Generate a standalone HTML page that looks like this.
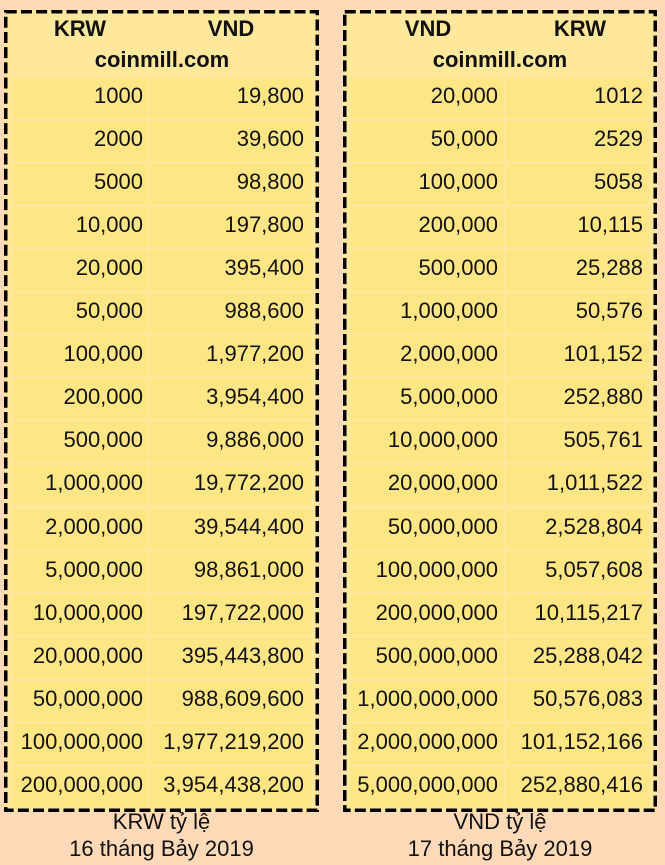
<!DOCTYPE html>
<html>
<head>
<meta charset="utf-8">
<style>
  html, body { margin:0; padding:0; }
  body { width:665px; height:865px; background:#FFDAB9; position:relative; overflow:hidden;
         font-family:"Liberation Sans", Arial, sans-serif; color:#111; }
  .box { position:absolute; background:#FFE89C; top:10px; height:802px; }
  .c { position:absolute; height:40px; background:#FFE684; font-size:22px; line-height:35px;
       text-align:right; white-space:nowrap; box-sizing:border-box; padding-right:5px; }
  .l2 { padding-right:8px; }
  .r1 { padding-right:6px; }
  .r2 { padding-right:6px; }
  .h { position:absolute; font-size:22px; line-height:22px; font-weight:bold; white-space:nowrap; text-align:center; }
  .cap { position:absolute; font-size:22px; line-height:22px; white-space:nowrap; text-align:center; }
  svg.b { position:absolute; left:0; top:0; }
</style>
</head>
<body>
<div class="box" style="left:4px;width:315px;"></div>
<div class="box" style="left:343px;width:314px;"></div>

<!-- Left headers -->
<div class="h" style="left:30px;width:100px;top:18px;">KRW</div>
<div class="h" style="left:181px;width:100px;top:18px;">VND</div>
<div class="h" style="left:12px;width:300px;top:49px;">coinmill.com</div>
<!-- Right headers -->
<div class="h" style="left:378px;width:100px;top:18px;">VND</div>
<div class="h" style="left:530px;width:100px;top:18px;">KRW</div>
<div class="h" style="left:351px;width:298px;top:49px;">coinmill.com</div>

<!-- Left table rows -->
<div class="c" style="left:12px;width:136px;top:78px;">1000</div><div class="c l2" style="left:150px;width:162px;top:78px;">19,800</div>
<div class="c" style="left:12px;width:136px;top:121px;">2000</div><div class="c l2" style="left:150px;width:162px;top:121px;">39,600</div>
<div class="c" style="left:12px;width:136px;top:164px;">5000</div><div class="c l2" style="left:150px;width:162px;top:164px;">98,800</div>
<div class="c" style="left:12px;width:136px;top:207px;">10,000</div><div class="c l2" style="left:150px;width:162px;top:207px;">197,800</div>
<div class="c" style="left:12px;width:136px;top:250px;">20,000</div><div class="c l2" style="left:150px;width:162px;top:250px;">395,400</div>
<div class="c" style="left:12px;width:136px;top:293px;">50,000</div><div class="c l2" style="left:150px;width:162px;top:293px;">988,600</div>
<div class="c" style="left:12px;width:136px;top:336px;">100,000</div><div class="c l2" style="left:150px;width:162px;top:336px;">1,977,200</div>
<div class="c" style="left:12px;width:136px;top:379px;">200,000</div><div class="c l2" style="left:150px;width:162px;top:379px;">3,954,400</div>
<div class="c" style="left:12px;width:136px;top:422px;">500,000</div><div class="c l2" style="left:150px;width:162px;top:422px;">9,886,000</div>
<div class="c" style="left:12px;width:136px;top:465px;">1,000,000</div><div class="c l2" style="left:150px;width:162px;top:465px;">19,772,200</div>
<div class="c" style="left:12px;width:136px;top:509px;">2,000,000</div><div class="c l2" style="left:150px;width:162px;top:509px;">39,544,400</div>
<div class="c" style="left:12px;width:136px;top:552px;">5,000,000</div><div class="c l2" style="left:150px;width:162px;top:552px;">98,861,000</div>
<div class="c" style="left:12px;width:136px;top:595px;">10,000,000</div><div class="c l2" style="left:150px;width:162px;top:595px;">197,722,000</div>
<div class="c" style="left:12px;width:136px;top:638px;">20,000,000</div><div class="c l2" style="left:150px;width:162px;top:638px;">395,443,800</div>
<div class="c" style="left:12px;width:136px;top:681px;">50,000,000</div><div class="c l2" style="left:150px;width:162px;top:681px;">988,609,600</div>
<div class="c" style="left:12px;width:136px;top:724px;">100,000,000</div><div class="c l2" style="left:150px;width:162px;top:724px;">1,977,219,200</div>
<div class="c" style="left:12px;width:136px;top:767px;">200,000,000</div><div class="c l2" style="left:150px;width:162px;top:767px;">3,954,438,200</div>

<!-- Right table rows -->
<div class="c r1" style="left:351px;width:153px;top:78px;">20,000</div><div class="c r2" style="left:506px;width:143px;top:78px;">1012</div>
<div class="c r1" style="left:351px;width:153px;top:121px;">50,000</div><div class="c r2" style="left:506px;width:143px;top:121px;">2529</div>
<div class="c r1" style="left:351px;width:153px;top:164px;">100,000</div><div class="c r2" style="left:506px;width:143px;top:164px;">5058</div>
<div class="c r1" style="left:351px;width:153px;top:207px;">200,000</div><div class="c r2" style="left:506px;width:143px;top:207px;">10,115</div>
<div class="c r1" style="left:351px;width:153px;top:250px;">500,000</div><div class="c r2" style="left:506px;width:143px;top:250px;">25,288</div>
<div class="c r1" style="left:351px;width:153px;top:293px;">1,000,000</div><div class="c r2" style="left:506px;width:143px;top:293px;">50,576</div>
<div class="c r1" style="left:351px;width:153px;top:336px;">2,000,000</div><div class="c r2" style="left:506px;width:143px;top:336px;">101,152</div>
<div class="c r1" style="left:351px;width:153px;top:379px;">5,000,000</div><div class="c r2" style="left:506px;width:143px;top:379px;">252,880</div>
<div class="c r1" style="left:351px;width:153px;top:422px;">10,000,000</div><div class="c r2" style="left:506px;width:143px;top:422px;">505,761</div>
<div class="c r1" style="left:351px;width:153px;top:465px;">20,000,000</div><div class="c r2" style="left:506px;width:143px;top:465px;">1,011,522</div>
<div class="c r1" style="left:351px;width:153px;top:509px;">50,000,000</div><div class="c r2" style="left:506px;width:143px;top:509px;">2,528,804</div>
<div class="c r1" style="left:351px;width:153px;top:552px;">100,000,000</div><div class="c r2" style="left:506px;width:143px;top:552px;">5,057,608</div>
<div class="c r1" style="left:351px;width:153px;top:595px;">200,000,000</div><div class="c r2" style="left:506px;width:143px;top:595px;">10,115,217</div>
<div class="c r1" style="left:351px;width:153px;top:638px;">500,000,000</div><div class="c r2" style="left:506px;width:143px;top:638px;">25,288,042</div>
<div class="c r1" style="left:351px;width:153px;top:681px;">1,000,000,000</div><div class="c r2" style="left:506px;width:143px;top:681px;">50,576,083</div>
<div class="c r1" style="left:351px;width:153px;top:724px;">2,000,000,000</div><div class="c r2" style="left:506px;width:143px;top:724px;">101,152,166</div>
<div class="c r1" style="left:351px;width:153px;top:767px;">5,000,000,000</div><div class="c r2" style="left:506px;width:143px;top:767px;">252,880,416</div>

<svg class="b" width="665" height="865" viewBox="0 0 665 865">
  <rect x="5.75" y="11.75" width="311.5" height="798.5" fill="none" stroke="#000" stroke-width="3.5" stroke-dasharray="11 4.2"/>
  <rect x="344.75" y="11.75" width="310.5" height="798.5" fill="none" stroke="#000" stroke-width="3.5" stroke-dasharray="11 4.2"/>
</svg>

<!-- Captions -->
<div class="cap" style="left:4px;width:315px;top:811px;">KRW tỷ lệ</div>
<div class="cap" style="left:4px;width:315px;top:838px;">16 tháng Bảy 2019</div>
<div class="cap" style="left:343px;width:314px;top:811px;">VND tỷ lệ</div>
<div class="cap" style="left:343px;width:314px;top:838px;">17 tháng Bảy 2019</div>
</body>
</html>
